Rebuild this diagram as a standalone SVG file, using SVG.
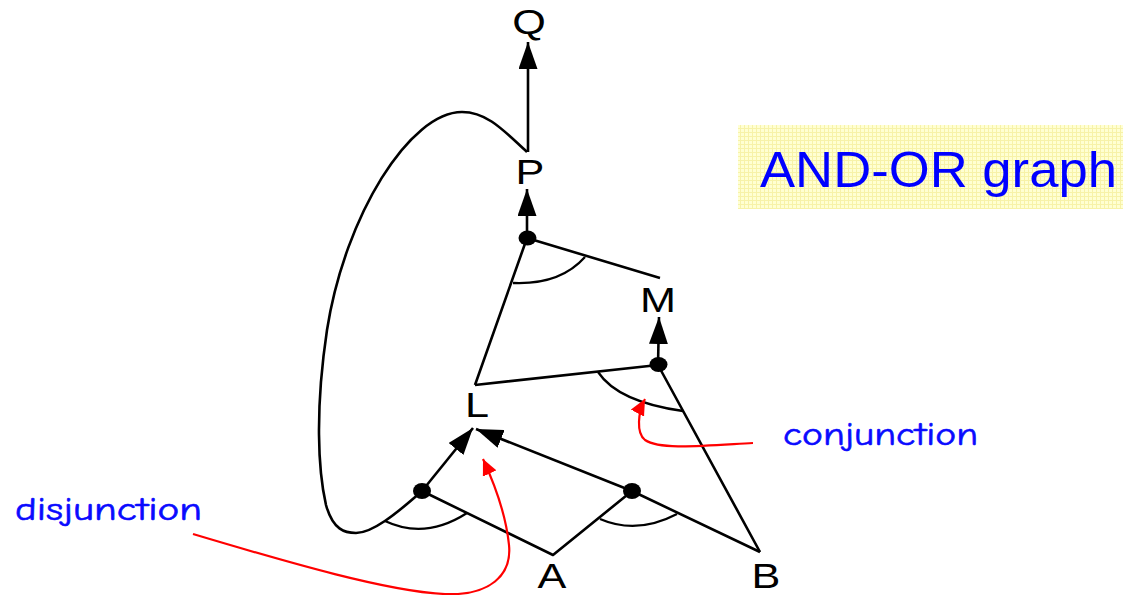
<svg xmlns="http://www.w3.org/2000/svg" width="1124" height="595" viewBox="0 0 1124 595">
  <style>
    .lbl { font-family: "Liberation Sans", Arial, sans-serif; font-size: 36px; fill: #000; text-anchor: middle; }
    .edge { fill: none; stroke: #000; stroke-width: 2.6; stroke-linejoin: round; }
    .arc { fill: none; stroke: #000; stroke-width: 2.3; }
    .red { fill: none; stroke: #ff0000; stroke-width: 2.2; }
    .note { font-family: "Comic Sans MS", "Comic Neue", "DejaVu Sans", sans-serif; font-size: 33px; fill: #0a0aff; stroke: #0a0aff; stroke-width: 0.6; }
    .dot { fill: #000; }
  </style>
  <defs>
    <marker id="arrow" markerUnits="userSpaceOnUse" viewBox="0 0 27 19" markerWidth="27" markerHeight="19" refX="27" refY="9.5" orient="auto">
      <path d="M0,0 L27,9.5 L0,19 z" fill="#000"/>
    </marker>
    <marker id="redarrow" markerUnits="userSpaceOnUse" viewBox="0 0 16 15" markerWidth="16" markerHeight="15" refX="16" refY="7.5" orient="auto">
      <path d="M0,0 L16,7.5 L0,15 z" fill="#ff0000"/>
    </marker>
    <pattern id="grid" width="4" height="4" patternUnits="userSpaceOnUse">
      <rect width="4" height="4" fill="#ffffd2"/>
      <path d="M0,0.5 H4 M0.5,0 V4" stroke="#f7f2a8" stroke-width="1"/>
    </pattern>
  </defs>

  <g id="title">
    <rect x="738" y="125" width="385" height="84" fill="url(#grid)"/>
    <text x="760" y="187" font-family="Liberation Sans, Arial, sans-serif" font-size="50" fill="#0000ff" textLength="357" lengthAdjust="spacingAndGlyphs">AND-OR graph</text>
  </g>

  <g id="connectors">
    <!-- feedback loop from P back to left AND node -->
    <path class="edge" d="M527,152 C505,132 488,112 462,112 C410,112 345,215 327,330 C315,410 318,470 326,505 C333,530 345,533 356,533 C372,533 395,515 422,491"/>
    <!-- P to Q -->
    <path class="edge" d="M528,152 L528,42" marker-end="url(#arrow)"/>
    <!-- AND node above L/M to P -->
    <path class="edge" d="M527,238 L527,189" marker-end="url(#arrow)"/>
    <path class="edge" d="M475,385 L527,238 L660,278"/>
    <path class="arc" d="M513,283 Q560,285 585,257"/>
    <!-- AND node for M -->
    <path class="edge" d="M658,365 L659,317" marker-end="url(#arrow)"/>
    <path class="edge" d="M475,385 L658,365 L760,552"/>
    <path class="arc" d="M598,372 Q618,402 683,411"/>
    <!-- AND nodes for L -->
    <path class="edge" d="M422,491 L473,428" marker-end="url(#arrow)"/>
    <path class="edge" d="M632,491 L476,429" marker-end="url(#arrow)"/>
    <path class="edge" d="M422,491 L553,555 L632,491 L760,552"/>
    <path class="arc" d="M385,521 Q425,540 467,513"/>
    <path class="arc" d="M600,519 Q637,535 677,514"/>
    <!-- AND node dots -->
    <ellipse class="dot" cx="527.5" cy="238" rx="9" ry="7.5"/>
    <ellipse class="dot" cx="658.5" cy="364.5" rx="9" ry="7.5"/>
    <ellipse class="dot" cx="422" cy="491" rx="9" ry="8"/>
    <ellipse class="dot" cx="632" cy="491" rx="9" ry="8"/>
  </g>

  <g id="node-Q"><text class="lbl" font-size="33" transform="translate(529,34) scale(1.2,1)">Q</text></g>
  <g id="node-P"><text class="lbl" transform="translate(530,184) scale(1.2,1)">P</text></g>
  <g id="node-M"><text class="lbl" transform="translate(658,312) scale(1.2,1)">M</text></g>
  <g id="node-L"><text class="lbl" transform="translate(477,417) scale(1.2,1)">L</text></g>
  <g id="node-A"><text class="lbl" transform="translate(552,588) scale(1.2,1)">A</text></g>
  <g id="node-B"><text class="lbl" transform="translate(766,588) scale(1.2,1)">B</text></g>

  <g id="annotation-disjunction">
    <text class="note" x="15" y="520" textLength="187" lengthAdjust="spacingAndGlyphs">disjunction</text>
    <path class="red" d="M193,534 C290,563 390,592 445,594 C490,596 512,575 509,545 C506,515 495,485 483,459" marker-end="url(#redarrow)"/>
  </g>
  <g id="annotation-conjunction">
    <text class="note" x="783" y="445" textLength="195" lengthAdjust="spacingAndGlyphs">conjunction</text>
    <path class="red" d="M753,443 C700,446 660,450 645,440 C636,433 638,412 645,399" marker-end="url(#redarrow)"/>
  </g>
</svg>
